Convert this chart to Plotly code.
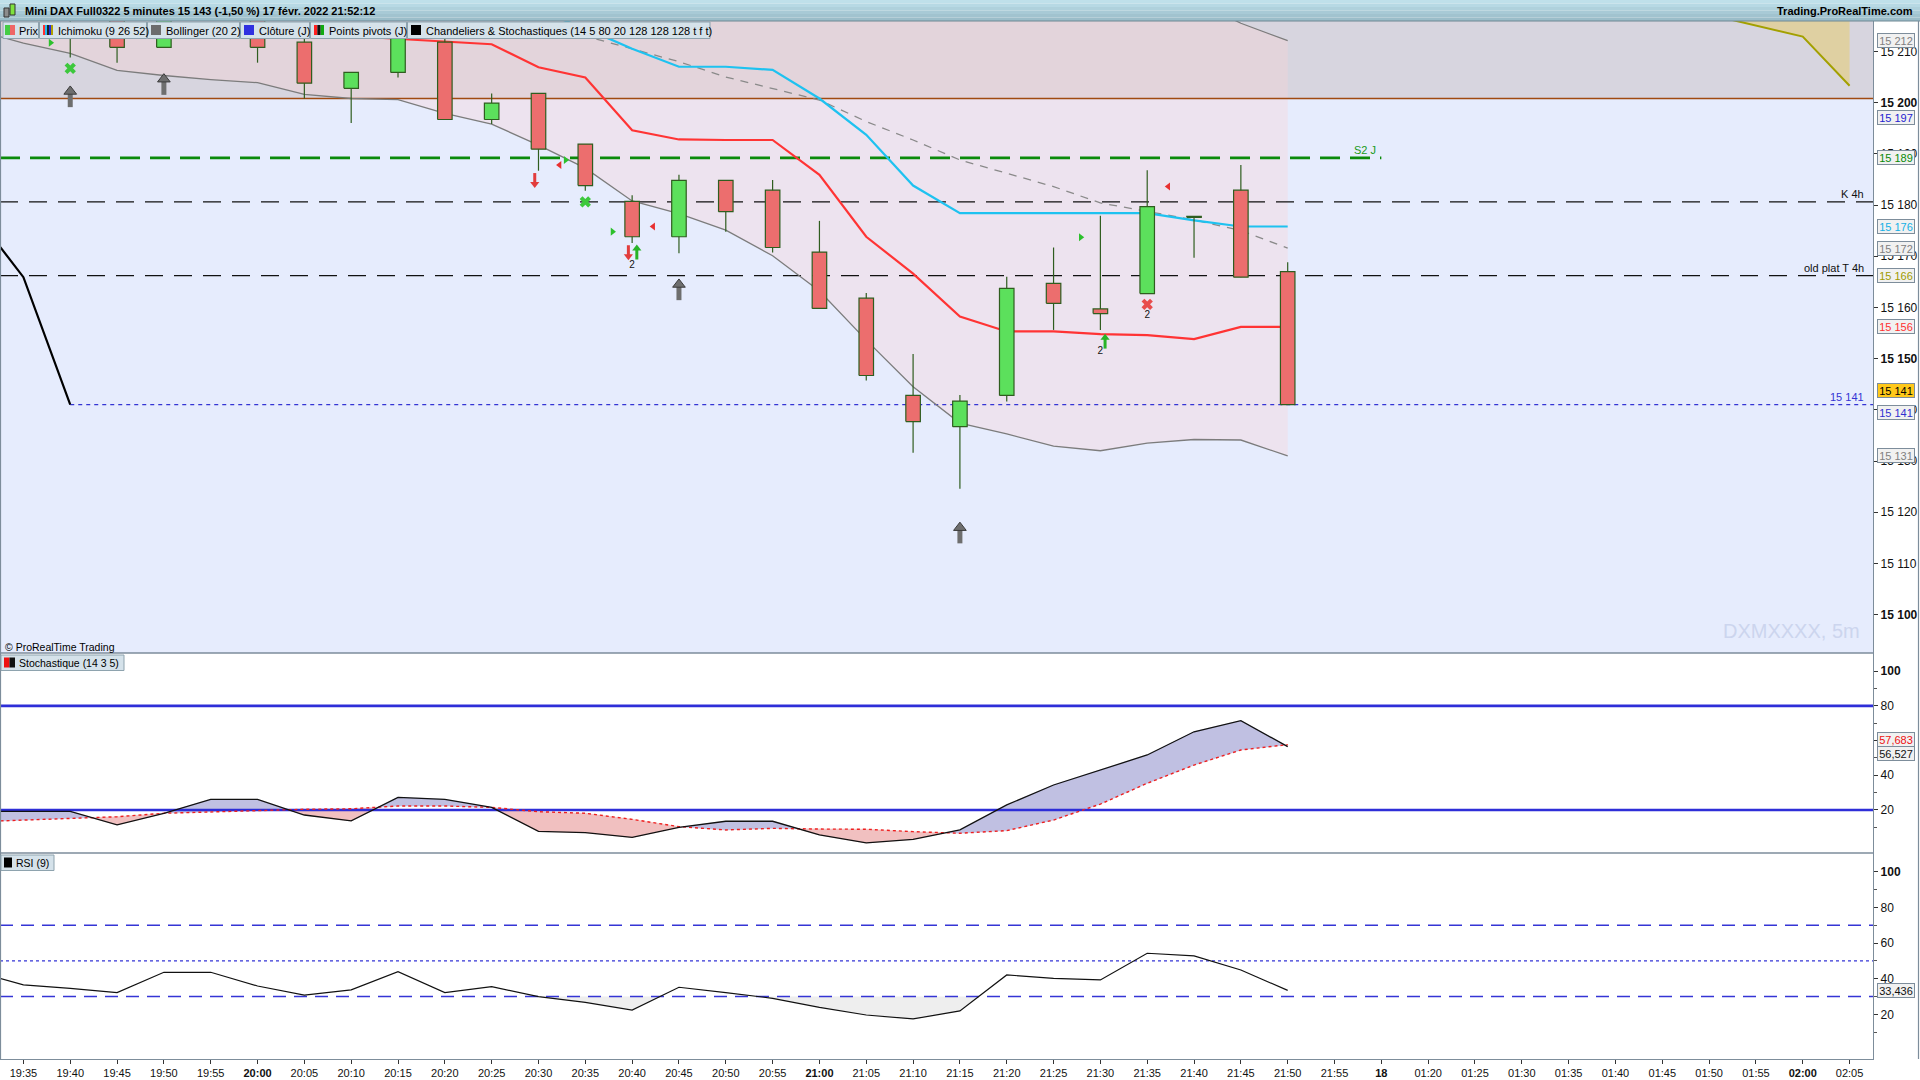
import plotly.graph_objects as go

# ================= DATA =================
x_tick_labels = ["19:35", "19:40", "19:45", "19:50", "19:55", "20:00", "20:05", "20:10", "20:15", "20:20",
                 "20:25", "20:30", "20:35", "20:40", "20:45", "20:50", "20:55", "21:00", "21:05", "21:10",
                 "21:15", "21:20", "21:25", "21:30", "21:35", "21:40", "21:45", "21:50", "21:55", "18",
                 "01:20", "01:25", "01:30", "01:35", "01:40", "01:45", "01:50", "01:55", "02:00", "02:05"]
bold_tick_labels = ["20:00", "21:00", "18", "02:00"]

candle_idx = list(range(28))
open_px = [15225.0, 15222.0, 15218.0, 15210.8, 15219.0, 15220.0, 15211.8, 15202.8, 15205.9, 15211.8,
           15196.7, 15201.8, 15191.9, 15180.7, 15173.8, 15184.8, 15182.9, 15170.8, 15161.8, 15142.8,
           15136.7, 15142.8, 15164.7, 15159.7, 15162.7, 15177.6, 15182.9, 15167.0]
high_px = [15228.0, 15224.0, 15220.0, 15220.0, 15224.0, 15222.0, 15214.0, 15205.9, 15215.0, 15212.5,
           15201.8, 15201.8, 15191.9, 15181.9, 15185.9, 15184.8, 15184.9, 15176.9, 15162.8, 15150.9,
           15142.9, 15166.0, 15171.7, 15177.9, 15186.8, 15177.8, 15187.8, 15168.8]
low_px = [15218.0, 15208.8, 15207.8, 15210.8, 15217.0, 15207.8, 15200.8, 15196.0, 15204.9, 15196.7,
          15195.8, 15186.7, 15182.8, 15172.6, 15170.6, 15174.8, 15170.7, 15159.8, 15145.7, 15131.6,
          15124.6, 15141.6, 15155.6, 15155.6, 15162.7, 15169.7, 15165.9, 15141.0]
close_px = [15221.0, 15218.0, 15210.8, 15219.0, 15222.0, 15210.8, 15203.8, 15205.9, 15214.0, 15196.7,
            15199.9, 15190.9, 15183.8, 15173.8, 15184.8, 15178.7, 15171.7, 15159.8, 15146.7, 15137.7,
            15141.7, 15163.7, 15160.8, 15158.8, 15179.7, 15177.8, 15165.9, 15141.0]

band_idx = list(range(-1, 28))
bb_upper = [15236.0, 15236.0, 15236.0, 15236.0, 15235.5, 15235.0, 15235.0, 15235.0, 15234.5, 15234.0,
            15236.0, 15237.0, 15238.0, 15238.5, 15240.0, 15237.7, 15234.9, 15235.5, 15237.7, 15239.0,
            15240.9, 15240.2, 15237.1, 15234.3, 15228.8, 15224.1, 15220.0, 15215.5, 15212.1]
bb_lower = [15214.2, 15211.6, 15209.6, 15206.3, 15205.3, 15204.5, 15203.9, 15201.6, 15200.8, 15200.6,
            15197.9, 15195.8, 15191.7, 15187.2, 15180.8, 15178.3, 15175.1, 15170.1, 15163.2, 15153.6,
            15144.5, 15137.4, 15135.3, 15132.9, 15132.0, 15133.5, 15134.2, 15134.1, 15131.0]
bb_mid_idx = list(range(11, 28))
bb_mid = [15215.5, 15213.0, 15210.5, 15208.0, 15205.0, 15202.8, 15200.5, 15196.3, 15192.7, 15188.8,
          15186.2, 15183.6, 15180.4, 15178.8, 15177.1, 15175.0, 15171.6]

tenkan_idx = list(range(6, 28))
tenkan = [15213.5, 15213.0, 15212.4, 15212.0, 15211.4, 15206.9, 15204.9, 15194.6, 15192.8, 15192.7,
          15192.7, 15185.9, 15173.8, 15166.6, 15158.2, 15155.3, 15155.3, 15154.8, 15154.6, 15153.8,
          15156.2, 15156.2]
kijun_idx = list(range(11, 28))
kijun = [15218.0, 15214.5, 15210.5, 15207.0, 15207.0, 15206.4, 15200.8, 15193.7, 15183.8, 15178.4,
         15178.4, 15178.4, 15178.4, 15178.4, 15177.0, 15175.8, 15175.8]
chikou_shift = 26
senkou_idx = [36, 37, 38, 39]
senkou_a = [15217.2, 15215.0, 15212.9, 15203.3]
senkou_b = [15228.0, 15228.0, 15228.0, 15228.0]

zone_level = 15200.8
pivot_s2 = 15189.2
level_k4h = 15180.6
level_old_plat = 15166.2
prev_day_close = 15197.0
last_price = 15141.0

osc_idx = list(range(-1, 28))
stoch_k = [19.2, 19.2, 19.2, 11.4, 18.1, 26.1, 26.1, 17.1, 13.7, 27.3, 26.1, 21.5, 7.7, 6.9, 4.2,
           10.0, 13.5, 13.5, 5.6, 1.0, 3.1, 8.5, 22.9, 34.4, 43.1, 51.7, 65.1, 71.5, 56.527]
stoch_d = [13.2, 14.1, 15.2, 16.1, 18.1, 19.0, 19.8, 20.4, 20.7, 22.3, 22.3, 21.5, 19.0, 18.1, 14.6,
           10.4, 8.5, 9.4, 9.0, 8.9, 7.5, 6.6, 8.1, 14.2, 23.4, 35.4, 45.9, 54.6, 57.683]
stoch_levels = [80, 20]
rsi = [44.0, 36.5, 34.6, 32.2, 43.6, 43.6, 35.9, 30.8, 33.7, 44.0, 32.2, 35.5, 29.9, 26.7, 22.4,
       35.2, 32.2, 29.0, 23.9, 19.6, 17.4, 21.9, 42.1, 40.2, 39.3, 54.3, 52.8, 44.9, 33.436]
rsi_dash_levels = [70, 30]
rsi_mid_level = 50
rsi_oversold = 30

gray_up_idx = [1, 3, 14, 20]
gray_up_px = [15201.4, 15203.8, 15163.7, 15116.2]
green_x_idx = [1, 12]
green_x_px = [15206.7, 15180.6]
red_x_idx = [24]
red_x_px = [15160.6]
red_down_idx = [11, 13]
red_down_px = [15184.7, 15170.6]
green_up_idx = [13, 23]
green_up_px = [15170.9, 15153.5]
count_idx = [13, 23, 24]
count_px = [15168.2, 15151.3, 15158.4]
count_txt = ["2", "2", "2"]
tri_right_idx = [1, 12, 13, 23]
tri_right_px = [15211.7, 15188.8, 15174.8, 15173.7]
tri_left_idx = [11, 13, 24]
tri_left_px = [15187.8, 15175.8, 15183.6]

# ================= LAYOUT CONSTANTS =================
XMIN, XMAX = -0.5, 39.5
Y_MAIN = [15092.5, 15215.94]
Y_STO = [-4.8, 110.5]
Y_RSI = [-5.1, 110.6]
W, H = 1920, 1080
PL, PR, PT, PB = 0, 1873, 21, 1059
SEP1, SEP2 = 653, 853
AXIS_COL = '#7d8d9b'
FONT = 'Liberation Sans, Arial, sans-serif'
NARROW = 'Liberation Sans Narrow, Liberation Sans, Arial, sans-serif'
BODY_HALF = 0.155


def pxx(p):
    return (p - PL) / (PR - PL)


def pxy(p):
    return (PB - p) / (PB - PT)


UNIT_PX = (SEP1 - PT) / (Y_MAIN[1] - Y_MAIN[0])


def up(pix):
    return pix / UNIT_PX


def fmt_price(v):
    return f"{v:,.0f}".replace(",", " ")


def fmt_osc(v):
    return f"{v:.3f}".replace(".", ",")


fig = go.Figure()
M = dict(xaxis='x', yaxis='y')
S = dict(xaxis='x2', yaxis='y2')
R = dict(xaxis='x3', yaxis='y3')

# ---------- main panel ----------
fig.add_trace(go.Scatter(x=band_idx + band_idx[::-1], y=bb_upper + bb_lower[::-1], fill='toself',
                         fillcolor='rgba(250,210,214,0.36)', line=dict(width=0), mode='lines', **M))
fig.add_trace(go.Scatter(x=senkou_idx, y=senkou_b, mode='lines', line=dict(width=0, color='#a3a000'), **M))
fig.add_trace(go.Scatter(x=senkou_idx, y=senkou_a, mode='lines', fill='tonexty', fillcolor='#dfd0a2',
                         line=dict(width=2, color='#a3a000'), **M))


def hline(y, color, width, dash, x0=XMIN, x1=XMAX, spec=M):
    fig.add_trace(go.Scatter(x=[x0, x1], y=[y, y], mode='lines',
                             line=dict(color=color, width=width, dash=dash), **spec))


hline(zone_level, '#a04a10', 1.5, 'solid')
hline(pivot_s2, '#0a8a0a', 2.6, '20px,10px', x1=29)
hline(level_k4h, '#111111', 1.3, '18px,11px')
hline(level_old_plat, '#111111', 1.3, '18px,11px')
hline(last_price, '#3434d4', 1.2, '4px,4px', x0=candle_idx[-1] - chikou_shift)

fig.add_trace(go.Scatter(x=band_idx, y=bb_upper, mode='lines', line=dict(color='#7c7c7c', width=1.3), **M))
fig.add_trace(go.Scatter(x=band_idx, y=bb_lower, mode='lines', line=dict(color='#7c7c7c', width=1.3), **M))
fig.add_trace(go.Scatter(x=bb_mid_idx, y=bb_mid, mode='lines',
                         line=dict(color='#8a8a8a', width=1.3, dash='8px,7px'), **M))
fig.add_trace(go.Scatter(x=tenkan_idx, y=tenkan, mode='lines', line=dict(color='#ff3434', width=2.2), **M))
fig.add_trace(go.Scatter(x=kijun_idx, y=kijun, mode='lines', line=dict(color='#1ec2f0', width=2.2), **M))
fig.add_trace(go.Scatter(x=[i - chikou_shift for i in candle_idx], y=close_px, mode='lines',
                         line=dict(color='#000000', width=2.2), **M))

# candles: wicks then bodies (all scatter so they sit above the fills)
EDGE = '#2f5d1f'
wx, wy = [], []
for i, h, l in zip(candle_idx, high_px, low_px):
    wx += [i, i, None]
    wy += [l, h, None]
fig.add_trace(go.Scatter(x=wx, y=wy, mode='lines', line=dict(color=EDGE, width=1.2), **M))
for want_up, col in [(True, '#5ce05c'), (False, '#ec6e6e')]:
    bx, by = [], []
    for i, o, c in zip(candle_idx, open_px, close_px):
        if (c >= o) != want_up:
            continue
        lo, hi = min(o, c), max(o, c)
        bx += [i - BODY_HALF, i + BODY_HALF, i + BODY_HALF, i - BODY_HALF, i - BODY_HALF, None]
        by += [lo, lo, hi, hi, lo, None]
    fig.add_trace(go.Scatter(x=bx, y=by, mode='lines', fill='toself', fillcolor=col,
                             line=dict(color=EDGE, width=1.2), **M))


def block_arrow(xs, ys, color, direction, head=11, stem_len=11, stem_w=5, off=4, edge=None):
    s = 1 if direction == 'up' else -1
    fig.add_trace(go.Scatter(x=xs, y=[y - s * up(off) for y in ys], mode='markers',
                             marker=dict(symbol='line-ns', size=stem_len,
                                         line=dict(width=stem_w, color=color)), **M))
    fig.add_trace(go.Scatter(x=xs, y=[y + s * up(off) for y in ys], mode='markers',
                             marker=dict(symbol='triangle-up' if s > 0 else 'triangle-down', size=head,
                                         color=color, line=dict(width=1 if edge else 0, color=edge or color)),
                             **M))


block_arrow(gray_up_idx, gray_up_px, '#6e6e6e', 'up', edge='#3a3a3a')
block_arrow([i - 0.08 for i in red_down_idx], red_down_px, '#e23c3c', 'down', head=8, stem_len=7, stem_w=3, off=3)
block_arrow([i + 0.1 for i in green_up_idx], green_up_px, '#27b427', 'up', head=8, stem_len=7, stem_w=3, off=3)
fig.add_trace(go.Scatter(x=green_x_idx, y=green_x_px, mode='markers',
                         marker=dict(symbol='x', size=10, color='#3cc83c', line=dict(width=0)), **M))
fig.add_trace(go.Scatter(x=red_x_idx, y=red_x_px, mode='markers',
                         marker=dict(symbol='x', size=10, color='#e84c4c', line=dict(width=0)), **M))
fig.add_trace(go.Scatter(x=[i - 0.42 for i in tri_right_idx], y=tri_right_px, mode='markers',
                         marker=dict(symbol='triangle-right', size=7, color='#2cc02c', line=dict(width=0)), **M))
fig.add_trace(go.Scatter(x=[i + 0.45 for i in tri_left_idx], y=tri_left_px, mode='markers',
                         marker=dict(symbol='triangle-left', size=7, color='#e83030', line=dict(width=0)), **M))
fig.add_trace(go.Scatter(x=count_idx, y=count_px, mode='text', text=count_txt,
                         textfont=dict(size=10, color='#111111', family=FONT), **M))


# ---------- oscillator fills ----------
def regions(xs, a, b):
    pts = []
    for i in range(len(xs)):
        if i > 0:
            d0 = a[i - 1] - b[i - 1]
            d1 = a[i] - b[i]
            if d0 * d1 < 0:
                t = d0 / (d0 - d1)
                xc = xs[i - 1] + t * (xs[i] - xs[i - 1])
                yc = a[i - 1] + t * (a[i] - a[i - 1])
                pts.append((xc, yc, yc))
        pts.append((xs[i], a[i], b[i]))
    out = []
    run = [pts[0]]
    sign = None
    for j in range(1, len(pts)):
        p0, p1 = pts[j - 1], pts[j]
        s = (p0[1] + p1[1]) - (p0[2] + p1[2]) > 0
        if sign is None or s == sign:
            run.append(p1)
            sign = s
        else:
            out.append((run, sign))
            run = [p0, p1]
            sign = s
    out.append((run, sign))
    return out


for run, pos in regions(osc_idx, stoch_k, stoch_d):
    xs = [p[0] for p in run] + [p[0] for p in reversed(run)]
    ys = [p[1] for p in run] + [p[2] for p in reversed(run)]
    fig.add_trace(go.Scatter(x=xs, y=ys, fill='toself', mode='lines', line=dict(width=0.5,
                             color='#c0c0e2' if pos else '#f1c0c0'),
                             fillcolor='#c0c0e2' if pos else '#f1c0c0', **S))
for lv in stoch_levels:
    hline(lv, '#2e2ed8', 2.6, 'solid', spec=S)
fig.add_trace(go.Scatter(x=osc_idx, y=stoch_d, mode='lines', line=dict(color='#ee2020', width=1.4, dash='dot'), **S))
fig.add_trace(go.Scatter(x=osc_idx, y=stoch_k, mode='lines', line=dict(color='#111111', width=1.3), **S))

rsi_base = [rsi_oversold for _ in rsi]
for run, pos in regions(osc_idx, rsi, rsi_base):
    if pos:
        continue
    xs = [p[0] for p in run] + [p[0] for p in reversed(run)]
    ys = [p[1] for p in run] + [p[2] for p in reversed(run)]
    fig.add_trace(go.Scatter(x=xs, y=ys, fill='toself', mode='lines', line=dict(width=0),
                             fillcolor='#eeeeee', **R))
for lv in rsi_dash_levels:
    hline(lv, '#3535d5', 1.4, '13px,8px', spec=R)
hline(rsi_mid_level, '#3535d5', 1.3, '3px,3px', spec=R)
fig.add_trace(go.Scatter(x=osc_idx, y=rsi, mode='lines', line=dict(color='#111111', width=1.2), **R))

# ================= AXES =================
d_main = [pxy(SEP1), 1]
d_sto = [pxy(SEP2), pxy(SEP1)]
d_rsi = [0, pxy(SEP2)]

xcommon = dict(range=[XMIN, XMAX], showgrid=False, zeroline=False, fixedrange=True)
main_tv = list(range(15100, 15211, 10))
main_tt = [('<b>' + fmt_price(v) + '</b>') if v % 50 == 0 else fmt_price(v) for v in main_tv]
ycommon = dict(side='right', showgrid=False, zeroline=False, showline=True, linecolor=AXIS_COL, linewidth=1.2,
               ticks='outside', ticklen=4, tickcolor='#333333', fixedrange=True,
               tickfont=dict(size=12, family=FONT, color='#111111'))

fig.update_layout(
    width=W, height=H, margin=dict(l=PL, r=W - PR, t=PT, b=H - PB),
    paper_bgcolor='white', plot_bgcolor='white', showlegend=False, hovermode=False,
    font=dict(family=FONT, size=11, color='black'),
    xaxis=dict(domain=[0, 1], anchor='y', showticklabels=False, ticks='', **xcommon),
    xaxis2=dict(domain=[0, 1], anchor='y2', showticklabels=False, ticks='', **xcommon),
    xaxis3=dict(domain=[0, 1], anchor='y3', tickvals=list(range(len(x_tick_labels))),
                ticktext=[('<b>' + t + '</b>') if t in bold_tick_labels else t for t in x_tick_labels],
                ticks='outside', ticklen=4, tickcolor='#333333', showline=True, linecolor=AXIS_COL, linewidth=1.2,
                tickangle=0, tickfont=dict(size=11, family=NARROW, color='#111111'), **xcommon),
    yaxis=dict(domain=d_main, anchor='x', range=Y_MAIN, tickvals=main_tv, ticktext=main_tt, **ycommon),
    yaxis2=dict(domain=d_sto, anchor='x2', range=Y_STO, tickvals=[20, 40, 60, 80, 100],
                ticktext=['20', '40', '60', '80', '<b>100</b>'],
                minor=dict(tickvals=[10, 30, 50, 70, 90], ticks='outside', ticklen=3, tickcolor='#555555'),
                **ycommon),
    yaxis3=dict(domain=d_rsi, anchor='x3', range=Y_RSI, tickvals=[20, 40, 60, 80, 100],
                ticktext=['20', '40', '60', '80', '<b>100</b>'],
                minor=dict(tickvals=[10, 30, 50, 70, 90], ticks='outside', ticklen=3, tickcolor='#555555'),
                **ycommon),
)

# ================= SHAPES =================
shapes = []
shapes.append(dict(type='rect', xref='paper', yref='y domain', x0=0, x1=1, y0=0, y1=1,
                   fillcolor='#e6ecfd', line=dict(width=0), layer='below'))
shapes.append(dict(type='rect', xref='paper', yref='y', x0=0, x1=1, y0=zone_level, y1=Y_MAIN[1],
                   fillcolor='#d7d5df', line=dict(width=0), layer='below'))
grad = ['#bfe0ea', '#b7d9e4', '#afd1dc', '#a8cad6', '#a1c3cf', '#9bbdc9']
for k, c in enumerate(grad):
    shapes.append(dict(type='rect', xref='paper', yref='paper', x0=0, x1=pxx(W),
                       y0=pxy(PT * (k + 1) / len(grad)), y1=pxy(PT * k / len(grad)),
                       fillcolor=c, line=dict(width=0), layer='above'))
shapes.append(dict(type='line', xref='paper', yref='paper', x0=0, x1=pxx(W), y0=pxy(PT), y1=pxy(PT),
                   line=dict(color='#6f8893', width=1.2), layer='above'))
shapes.append(dict(type='rect', xref='paper', yref='paper', x0=pxx(4), x1=pxx(9), y0=pxy(17), y1=pxy(8),
                   fillcolor='#8c8c8c', line=dict(color='#333333', width=1), layer='above'))
shapes.append(dict(type='rect', xref='paper', yref='paper', x0=pxx(10), x1=pxx(15), y0=pxy(15), y1=pxy(4),
                   fillcolor='#7ee23e', line=dict(color='#333333', width=1), layer='above'))
for yy in (SEP1, SEP2):
    shapes.append(dict(type='line', xref='paper', yref='paper', x0=0, x1=1, y0=pxy(yy), y1=pxy(yy),
                       line=dict(color=AXIS_COL, width=1.3), layer='above'))
shapes.append(dict(type='line', xref='paper', yref='paper', x0=pxx(0.5), x1=pxx(0.5), y0=0, y1=1,
                   line=dict(color=AXIS_COL, width=1.2), layer='above'))
shapes.append(dict(type='line', xref='paper', yref='paper', x0=pxx(1918.5), x1=pxx(1918.5), y0=0, y1=1,
                   line=dict(color=AXIS_COL, width=1.2), layer='above'))

LEG_BG, LEG_BD = '#d5e2ea', '#8ea3ae'
legend_boxes = [(3, 38.5), (39.5, 146.5), (147.5, 239.5), (240.5, 309.5), (310.5, 406.5), (407.5, 710)]
for x0, x1 in legend_boxes:
    shapes.append(dict(type='rect', xref='paper', yref='paper', x0=pxx(x0), x1=pxx(x1), y0=pxy(38.5),
                       y1=pxy(22), fillcolor=LEG_BG, line=dict(color=LEG_BD, width=1), layer='above'))
for (x0, x1, y0, y1) in [(1, 124, 655, 670.5), (1, 54, 855, 870.5)]:
    shapes.append(dict(type='rect', xref='paper', yref='paper', x0=pxx(x0), x1=pxx(x1), y0=pxy(y1),
                       y1=pxy(y0), fillcolor=LEG_BG, line=dict(color=LEG_BD, width=1), layer='above'))


def icon(x0, y0, cols, w=10, h=10):
    step = w / len(cols)
    for k, c in enumerate(cols):
        shapes.append(dict(type='rect', xref='paper', yref='paper', x0=pxx(x0 + k * step),
                           x1=pxx(x0 + (k + 1) * step), y0=pxy(y0 + h), y1=pxy(y0),
                           fillcolor=c, line=dict(width=0), layer='above'))


icon(5, 25, ['#44cc44', '#ee6666'])
icon(43, 25, ['#ff3030', '#22bbee', '#222222', '#2a2ad8', '#b0a000'])
icon(151, 25, ['#6c6c6c'])
icon(244, 25, ['#3030e0'])
icon(314, 25, ['#ff2020', '#111111', '#11aa11'])
icon(411, 25, ['#000000'])
icon(4, 657.5, ['#ee1111', '#111111'], w=11)
icon(4, 857.5, ['#000000'], w=8)

fig.update_layout(shapes=shapes)

# ================= ANNOTATIONS =================
ann = []
ann.append(dict(text='<b>Mini DAX Full0322 5 minutes 15 143 (-1,50 %) 17 févr. 2022 21:52:12</b>',
                x=pxx(23), y=pxy(10.5), xref='paper', yref='paper', xanchor='left', yanchor='middle',
                showarrow=False, font=dict(size=11, color='#000000')))
ann.append(dict(text='<b>Trading.ProRealTime.com</b>', x=pxx(1915), y=pxy(10.5), xref='paper', yref='paper',
                xanchor='right', yanchor='middle', showarrow=False, font=dict(size=11, color='#000000')))
legend_texts = [(17, 'Prix'), (55.5, 'Ichimoku (9 26 52)'), (164, 'Bollinger (20 2)'), (256.5, 'Clôture (J)'),
                (326.5, 'Points pivots (J)'), (424, 'Chandeliers & Stochastiques (14 5 80 20 128 128 128 t f t)')]
for xl, t in legend_texts:
    ann.append(dict(text=t, x=pxx(xl), y=pxy(30.5), xref='paper', yref='paper', xanchor='left',
                    yanchor='middle', showarrow=False, font=dict(size=11, color='#000000')))
ann.append(dict(text='Stochastique (14 3 5)', x=pxx(17), y=pxy(663), xref='paper', yref='paper',
                xanchor='left', yanchor='middle', showarrow=False, font=dict(size=10.5)))
ann.append(dict(text='RSI (9)', x=pxx(14), y=pxy(863), xref='paper', yref='paper',
                xanchor='left', yanchor='middle', showarrow=False, font=dict(size=10.5)))
ann.append(dict(text='© ProRealTime Trading', x=pxx(3), y=pxy(646.5), xref='paper', yref='paper',
                xanchor='left', yanchor='middle', showarrow=False, font=dict(size=10.5)))
ann.append(dict(text='DXMXXXX, 5m', x=pxx(1862), y=pxy(631), xref='paper', yref='paper',
                xanchor='right', yanchor='middle', showarrow=False, font=dict(size=20, color='#ccd5ee')))
for lvl, txt, col in [(level_k4h, 'K 4h', '#111111'), (level_old_plat, 'old plat T 4h', '#111111'),
                      (last_price, fmt_price(last_price), '#3434d4')]:
    ann.append(dict(text=txt, x=pxx(1866), y=lvl, xref='paper', yref='y', xanchor='right', yanchor='bottom',
                    yshift=0, showarrow=False, font=dict(size=11, color=col)))
ann.append(dict(text='S2 J', x=29, y=pivot_s2, xref='x', yref='y', xanchor='right', yanchor='bottom',
                xshift=-3, showarrow=False, font=dict(size=11, color='#1a9a1a')))


def tag(val, txt, yref, color, bg='#f1f1f1', yshift=0):
    ann.append(dict(text=txt, x=1, xref='paper', xanchor='left', xshift=4, y=val, yref=yref,
                    yanchor='middle', yshift=yshift, showarrow=False, font=dict(size=11, color=color),
                    bgcolor=bg, bordercolor=AXIS_COL, borderwidth=1, borderpad=0, width=36, height=13))


tag(bb_upper[-1], fmt_price(bb_upper[-1]), 'y', '#808080')
tag(prev_day_close, fmt_price(prev_day_close), 'y', '#2424d0')
tag(pivot_s2, fmt_price(pivot_s2), 'y', '#0a8a0a')
tag(kijun[-1], fmt_price(kijun[-1]), 'y', '#14b0e6')
tag(bb_mid[-1], fmt_price(bb_mid[-1]), 'y', '#808080')
tag(level_old_plat, fmt_price(level_old_plat), 'y', '#a09a00')
tag(tenkan[-1], fmt_price(tenkan[-1]), 'y', '#ff3030')
tag(close_px[-1], fmt_price(close_px[-1]), 'y', '#000000', bg='#ffc81a', yshift=14)
tag(last_price, fmt_price(last_price), 'y', '#3030d0', yshift=-8)
tag(bb_lower[-1], fmt_price(bb_lower[-1]), 'y', '#808080')
tag(stoch_d[-1], fmt_osc(stoch_d[-1]), 'y2', '#ee1111', yshift=5)
tag(stoch_k[-1], fmt_osc(stoch_k[-1]), 'y2', '#111111', yshift=-7)
tag(rsi[-1], fmt_osc(rsi[-1]), 'y3', '#111111')

fig.update_layout(annotations=ann)

fig.write_html("out.html", include_plotlyjs=True, config={'displayModeBar': False, 'staticPlot': True},
               post_script="document.body.style.margin='0px';document.body.style.overflow='hidden';")
